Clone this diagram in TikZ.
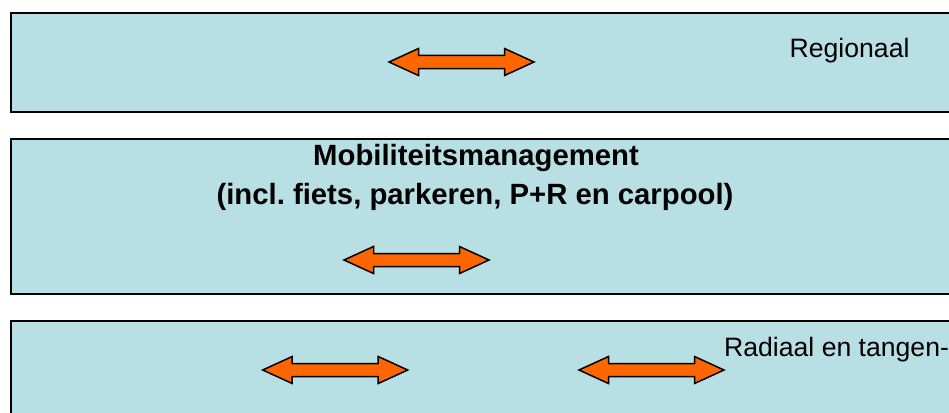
\documentclass[tikz,border=0pt]{standalone}
\usepackage{fontspec}
\setmainfont{Liberation Sans}
\definecolor{bandblue}{HTML}{B8DFE3}
\definecolor{arroworange}{HTML}{FF6600}
\frenchspacing
\begin{document}
\begin{tikzpicture}[x=1pt,y=-1pt,
  band/.style={draw=black,line width=2pt,fill=bandblue,inner sep=0pt,anchor=north west},
  dblarrow/.pic={\draw[line width=1.5pt,fill=arroworange,line join=miter]
     (-72.5,0) -- (-43,-13.5) -- (-43,-6.5) -- (43,-6.5) -- (43,-13.5) -- (72.5,0)
     -- (43,13.5) -- (43,6.5) -- (-43,6.5) -- (-43,13.5) -- cycle;},
  lbl/.style={font=\fontsize{26.6}{30}\selectfont, inner sep=0pt, anchor=base west},
  ttl/.style={font=\bfseries\fontsize{29.3}{39}\selectfont, inner sep=0pt, anchor=base}]
\useasboundingbox (0,0) rectangle (949,412);
\node[band,minimum width=950pt,minimum height=99pt] (band1) at (10,12) {};
\node[band,minimum width=950pt,minimum height=155pt] (band2) at (10,138) {};
\node[band,minimum width=950pt,minimum height=120pt] (band3) at (10,320) {};
\node[lbl] (regio) at (789.5,57) {Regionaal};
\node[ttl] (mm1) at (476,165) {Mobiliteitsmanagement};
\node[ttl] (mm2) at (475,204) {(incl. fiets, parkeren, P+R en carpool)};
\node[lbl] (radiaal) at (724,356) {Radiaal en tangen-};
\pic (a1) at (461.5,62) {dblarrow};
\pic (a2) at (416.5,260) {dblarrow};
\pic (a3) at (335.2,370) {dblarrow};
\pic (a4) at (651.5,370) {dblarrow};
\end{tikzpicture}
\end{document}
